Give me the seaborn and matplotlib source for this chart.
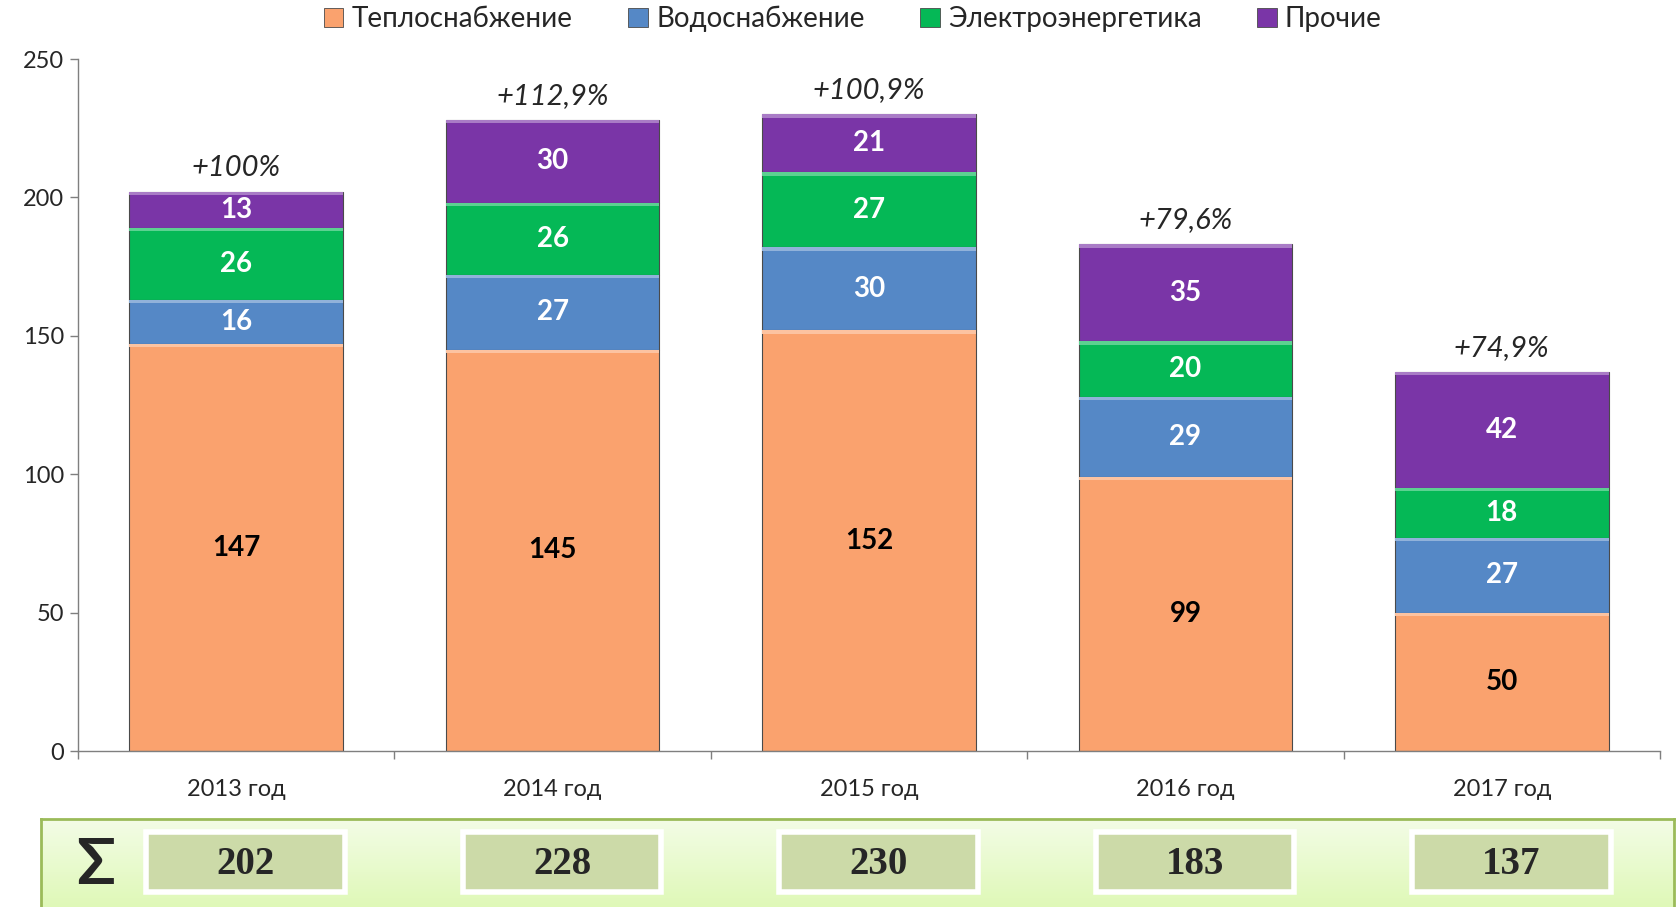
import matplotlib
matplotlib.use("Agg")
import matplotlib.pyplot as plt
import seaborn as sns
import numpy as np
from matplotlib.patches import Rectangle, Patch
from matplotlib.colors import LinearSegmentedColormap, to_rgb

years = ["2013 год", "2014 год", "2015 год", "2016 год", "2017 год"]
series_names = ["Теплоснабжение", "Водоснабжение", "Электроэнергетика", "Прочие"]
heat = [147, 145, 152, 99, 50]
water = [16, 27, 30, 29, 27]
power = [26, 26, 27, 20, 18]
other = [13, 30, 21, 35, 42]
growth = ["+100%", "+112,9%", "+100,9%", "+79,6%", "+74,9%"]
totals = [202, 228, 230, 183, 137]
yticks = [0, 50, 100, 150, 200, 250]

colors = ["#FAA26E", "#5588C6", "#05B856", "#7A35A7"]
label_colors = ["black", "white", "white", "white"]

sns.set_style("white")
plt.rcParams["font.family"] = ["Lato", "DejaVu Sans"]

W, H = 1679, 907
fig = plt.figure(figsize=(W / 100, H / 100), dpi=100)

ax_l, ax_r, ax_t, ax_b = 78, 1660, 59, 751
ax = fig.add_axes([ax_l / W, 1 - ax_b / H, (ax_r - ax_l) / W, (ax_b - ax_t) / H])

def lighten(c, f):
    r, g, b = to_rgb(c)
    return (r + (1 - r) * f, g + (1 - g) * f, b + (1 - b) * f)

series = [heat, water, power, other]
bottom = np.zeros(len(years))
for vals, col, lc in zip(series, colors, label_colors):
    sns.barplot(x=years, y=vals, bottom=bottom, color=col, width=0.675,
                errorbar=None, ax=ax, edgecolor="#4a4a4a", linewidth=0.8,
                saturation=1)
    top = bottom + np.array(vals)
    ax.bar(range(len(years)), [1.2] * len(years), bottom=top - 1.2, width=0.675,
           color=lighten(col, 0.35), linewidth=0, zorder=3)
    for i, v in enumerate(vals):
        ax.text(i, bottom[i] + v / 2, str(v), ha="center", va="center",
                fontsize=20, fontweight="bold", color=lc, zorder=4)
    bottom = top

for i, (t, g) in enumerate(zip(bottom, growth)):
    ax.annotate(g, xy=(i, t), xytext=(0, 8), textcoords="offset points",
                ha="center", va="bottom", fontsize=21, fontstyle="italic")

ax.set_xlim(-0.5, 4.5)
ax.set_ylim(0, 250)
ax.set_yticks(yticks)
ax.tick_params(axis="y", labelsize=17, length=6, width=1, color="#7f7f7f",
               direction="out", left=True, pad=4)
ax.set_xticks(range(len(years)))
ax.set_xticklabels(years)
ax.set_xticks(np.arange(-0.5, 5, 1), minor=True)
ax.tick_params(axis="x", which="major", length=0, labelsize=17, pad=20)
ax.tick_params(axis="x", which="minor", length=6, width=1, color="#7f7f7f",
               direction="out", bottom=True)
for s in ["top", "right"]:
    ax.spines[s].set_visible(False)
for s in ["left", "bottom"]:
    ax.spines[s].set_color("#7f7f7f")
    ax.spines[s].set_linewidth(1)
ax.set_xlabel("")
ax.set_ylabel("")

handles = [Patch(facecolor=c, edgecolor="#4a4a4a", linewidth=0.6) for c in colors]
fig.legend(handles, series_names, loc="center", bbox_to_anchor=(0.508, 0.979),
           ncol=4, frameon=False, fontsize=20, handlelength=0.7, handleheight=0.7,
           handletextpad=0.3, columnspacing=2.0)

px_per_unit = (ax_r - ax_l) / 5.0
p_l, p_r, p_t, p_b = 41, 1674, 819, 925
pax = fig.add_axes([p_l / W, 1 - p_b / H, (p_r - p_l) / W, (p_b - p_t) / H])
pax.set_xlim(-0.5 - (ax_l - p_l) / px_per_unit, 4.5 + (p_r - ax_r) / px_per_unit)
pax.set_ylim(p_b, p_t)
grad = np.linspace(0, 1, 100).reshape(-1, 1)
cmap = LinearSegmentedColormap.from_list("g", ["#F3FCE6", "#DBF8AE"])
pax.imshow(grad, aspect="auto", cmap=cmap,
           extent=[pax.get_xlim()[0], pax.get_xlim()[1], p_b, p_t], zorder=0)
for s in pax.spines.values():
    s.set_color("#9BBB59")
    s.set_linewidth(2)
pax.spines["bottom"].set_visible(False)
pax.set_xticks([])
pax.set_yticks([])

box_w = 185 / 295.0
for i, tot in enumerate(totals):
    cx = i + 0.03
    pax.add_patch(Rectangle((cx - box_w / 2, 832), box_w, 60, facecolor="#CCDAA8",
                            edgecolor="white", linewidth=4, zorder=2))
    pax.text(cx, 865, str(tot), ha="center", va="center", fontsize=28,
             fontweight="bold", family="Liberation Serif", zorder=3)
pax.text(-0.5 + (96 - ax_l) / px_per_unit, 866, "Σ", ha="center", va="center",
         fontsize=46, fontweight="bold", family=["Lato", "DejaVu Sans"], zorder=3)

fig.savefig("out.png", dpi=100)
